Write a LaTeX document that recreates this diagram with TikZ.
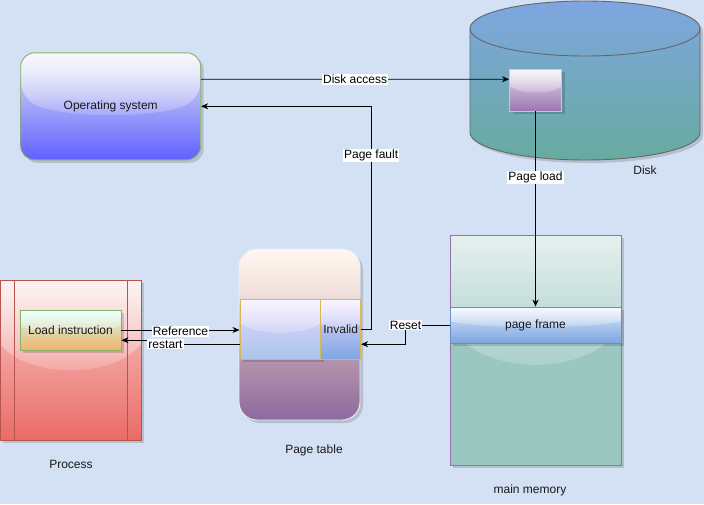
\documentclass[tikz,border=0pt]{standalone}
\usepackage{fontspec}
\setmainfont{Liberation Sans}
\usetikzlibrary{calc,shadows,fadings,arrows.meta}
\definecolor{bg}{HTML}{D4E1F5}
\definecolor{osline}{HTML}{82B366}
\definecolor{ostop}{HTML}{E4EAF2}
\definecolor{osbot}{HTML}{6060FF}
\definecolor{disktop}{HTML}{7EA6E0}
\definecolor{diskbot}{HTML}{67AB9F}
\definecolor{diskline}{HTML}{666666}
\definecolor{sbtop}{HTML}{E8DDF0}
\definecolor{sbbot}{HTML}{9A76B0}
\definecolor{sbline}{HTML}{B8CCE0}
\definecolor{mmfill}{HTML}{9AC7BF}
\definecolor{mmline}{HTML}{9673A6}
\definecolor{pftop}{HTML}{DAE8FC}
\definecolor{pfbot}{HTML}{7EA6E0}
\definecolor{pfline}{HTML}{6C8EBF}
\definecolor{pttop}{HTML}{FFE0C4}
\definecolor{ptbot}{HTML}{8C6A9E}
\definecolor{ptline}{HTML}{EEEEEE}
\definecolor{intop}{HTML}{E8D8FF}
\definecolor{inlbot}{HTML}{A9C4EB}
\definecolor{inrbot}{HTML}{7EA6E0}
\definecolor{inline}{HTML}{D6B656}
\definecolor{prtop}{HTML}{F8CECC}
\definecolor{prbot}{HTML}{EA6B66}
\definecolor{prline}{HTML}{B85450}
\definecolor{litop}{HTML}{C8FFF2}
\definecolor{limid}{HTML}{A2D0A0}
\definecolor{libot}{HTML}{F2B36C}
\tikzfading[name=glassfade, top color=transparent!25, bottom color=transparent!88]
\tikzset{
  glass/.style={path picture={
    \coordinate (gA) at (path picture bounding box.north west);
    \coordinate (gB) at (path picture bounding box.north east);
    \coordinate (gC) at (path picture bounding box.south west);
    \coordinate (gD) at (path picture bounding box.south east);
    \coordinate (gL) at ($(gA)!0.4!(gC)$);
    \coordinate (gR) at ($(gB)!0.4!(gD)$);
    \coordinate (gL2) at ($(gA)!0.62!(gC)$);
    \coordinate (gR2) at ($(gB)!0.62!(gD)$);
    \fill[white, path fading=glassfade] (gA) -- (gL) .. controls ($(gL2)!0.2!(gR2)$) and ($(gL2)!0.8!(gR2)$) .. (gR) -- (gB) -- cycle;
  }},
  shad/.style={drop shadow={shadow xshift=3pt, shadow yshift=-3pt, fill=black, opacity=0.15}},
  box/.style={inner sep=0pt, line width=0.9pt, text=black!90, align=center},
  arr/.style={draw=black, line width=0.8pt, -{Stealth[length=7pt,width=6pt]}},
  lab/.style={fill=white, inner sep=1pt, text=black},
  captxt/.style={text=black!90}
}
\begin{document}
\begin{tikzpicture}[x=1pt,y=-1pt, font=\fontsize{12}{14}\selectfont]
\useasboundingbox (0,0) rectangle (704,504);
\fill[bg] (0,0) rectangle (704,504);

% Disk cylinder
\path[draw=diskline, line width=0.9pt, top color=disktop, bottom color=diskbot, shad]
  (470,28.5) -- (470,132.5) arc[start angle=180, end angle=0, x radius=115, y radius=27.5]
  -- (700,28.5) arc[start angle=0, end angle=-180, x radius=115, y radius=27.5] -- cycle;
\draw[diskline, line width=0.9pt] (470,28.5) arc[start angle=180, end angle=0, x radius=115, y radius=27.5];
\node[captxt] (disklbl) at (645,170) {Disk};

% Small page box in disk
\node[box, draw=sbline, top color=sbtop, bottom color=sbbot, minimum width=52pt, minimum height=42pt, glass, shad] (sbox) at (535.5,90) {};

% Operating system
\node[box, draw=osline, top color=ostop, bottom color=osbot, rounded corners=14pt, minimum width=180pt, minimum height=107pt, glass, shad] (os) at (110.7,106.3) {Operating system};

% Main memory
\node[box, draw=mmline, fill=mmfill, minimum width=171pt, minimum height=230pt, glass, shad] (mm) at (535.5,350) {};
\node[box, draw=pfline, top color=pftop, bottom color=pfbot, minimum width=171pt, minimum height=36pt, glass, shad] (pfr) at (535.5,325) {page frame};
\node[captxt] (mmlbl) at (530,490) {main memory};

% Page table
\node[box, draw=ptline, top color=pttop, bottom color=ptbot, rounded corners=18pt, minimum width=121pt, minimum height=171pt, glass, shad] (pt) at (299.5,334.5) {};
\node[box, draw=inline, top color=intop, bottom color=inlbot, minimum width=80.7pt, minimum height=60pt, glass, shad] (ptl) at (280.3,329) {};
\node[box, draw=inline, top color=intop, bottom color=inrbot, minimum width=40pt, minimum height=60pt, glass] (inv) at (340.7,329) {Invalid};
\node[captxt] (ptlbl) at (314,450) {Page table};

% Process
\node[box, draw=prline, top color=prtop, bottom color=prbot, minimum width=141pt, minimum height=160pt, glass, shad] (proc) at (70.5,360) {};
\draw[prline, line width=0.9pt] ([xshift=15pt]proc.north west) -- ([xshift=15pt]proc.south west);
\draw[prline, line width=0.9pt] ([xshift=-14pt]proc.north east) -- ([xshift=-14pt]proc.south east);
\node[box, draw=osline, top color=litop, middle color=limid, bottom color=libot, minimum width=101pt, minimum height=40pt, glass, shad] (li) at (70.5,330) {Load instruction};
\node[captxt] (prlbl) at (71,464) {Process};

% Connectors
\draw[arr] ($(os.north east)!0.25!(os.south east)$) -- node[lab]{Disk access} ($(sbox.north west)!0.25!(sbox.south west)$);
\draw[arr] (inv.east) -- ++(10,0) |- node[lab, pos=0.39]{Page fault} (os.east);
\draw[arr] (sbox.south) -- node[lab, pos=0.34]{Page load} (pfr.north);
\draw[arr] (pfr.west) -- ++(-44,0) node[lab]{Reset} |- ($(inv.north east)!0.75!(inv.south east)$);
\draw[arr] (li.east) -- node[lab, above=-7pt]{Reference} (li.east -| ptl.west);
\draw[arr] ($(ptl.north west)!0.75!(ptl.south west)$) -- ++(-74,0) node[lab]{restart} |- ($(li.north east)!0.75!(li.south east)$);
\end{tikzpicture}
\end{document}
